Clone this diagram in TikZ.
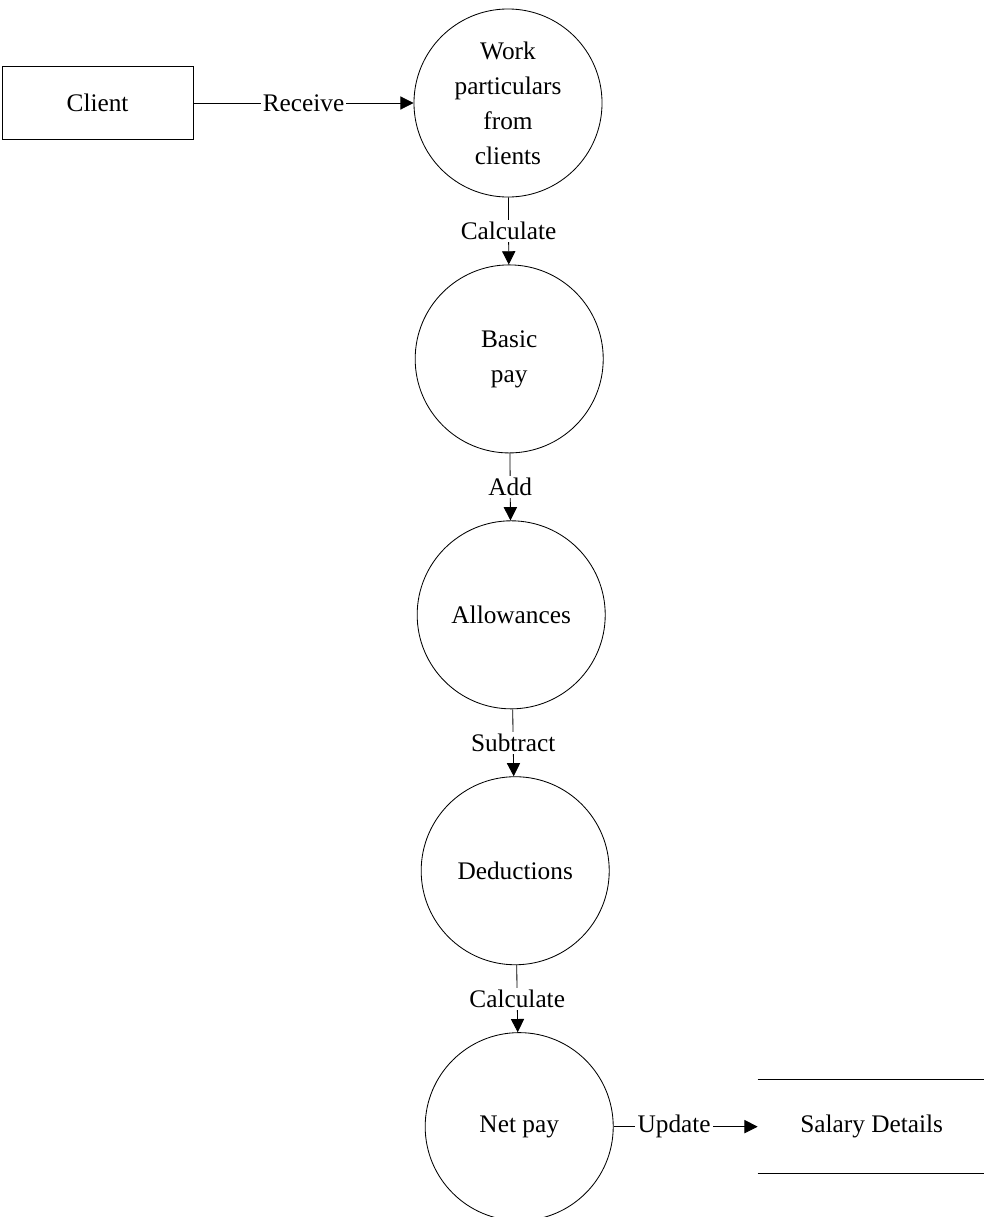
\documentclass[tikz,border=0pt]{standalone}
\usepackage{fontspec}
\setmainfont{Liberation Serif}
\usetikzlibrary{positioning, arrows.meta}

\begin{document}
\begin{tikzpicture}[x=0.025cm, y=-0.025cm, node distance=1.675cm,
    font=\fontsize{18}{24.9}\selectfont, line width=0.6pt,
    proc/.style={draw, circle, minimum size=4.7cm, inner sep=0pt, align=center},
    ent/.style={draw, minimum width=4.775cm, minimum height=1.825cm},
    flow/.style={-{Triangle[length=0.33cm, width=0.33cm]}},
    lbl/.style={fill=white, inner sep=1.5pt}]
  \useasboundingbox (0,0) rectangle (984,1217);

  \node[proc] (work) at (508,103) {Work\\particulars\\from\\clients};
  \node[ent, left=5.5cm of work] (client) {Client};
  \node[proc, below=of work, xshift=0.03cm] (basic) {Basic\\pay};
  \node[proc, below=of basic, xshift=0.05cm] (allow) {Allowances};
  \node[proc, below=of allow, xshift=0.1cm] (deduct) {Deductions};
  \node[proc, below=of deduct, xshift=0.1cm] (net) {Net pay};
  \node[minimum width=5.675cm, minimum height=2.325cm, right=3.6cm of net] (salary) {Salary Details};
  \draw (salary.north west) -- (salary.north east);
  \draw (salary.south west) -- (salary.south east);

  \draw[flow] (client) -- node[lbl] {Receive} (work);
  \draw[flow] (work) -- node[lbl] {Calculate} (basic);
  \draw[flow] (basic) -- node[lbl] {Add} (allow);
  \draw[flow] (allow) -- node[lbl] {Subtract} (deduct);
  \draw[flow] (deduct) -- node[lbl] {Calculate} (net);
  \draw[flow] (net) -- node[lbl, pos=0.42] {Update} (salary);
\end{tikzpicture}
\end{document}
